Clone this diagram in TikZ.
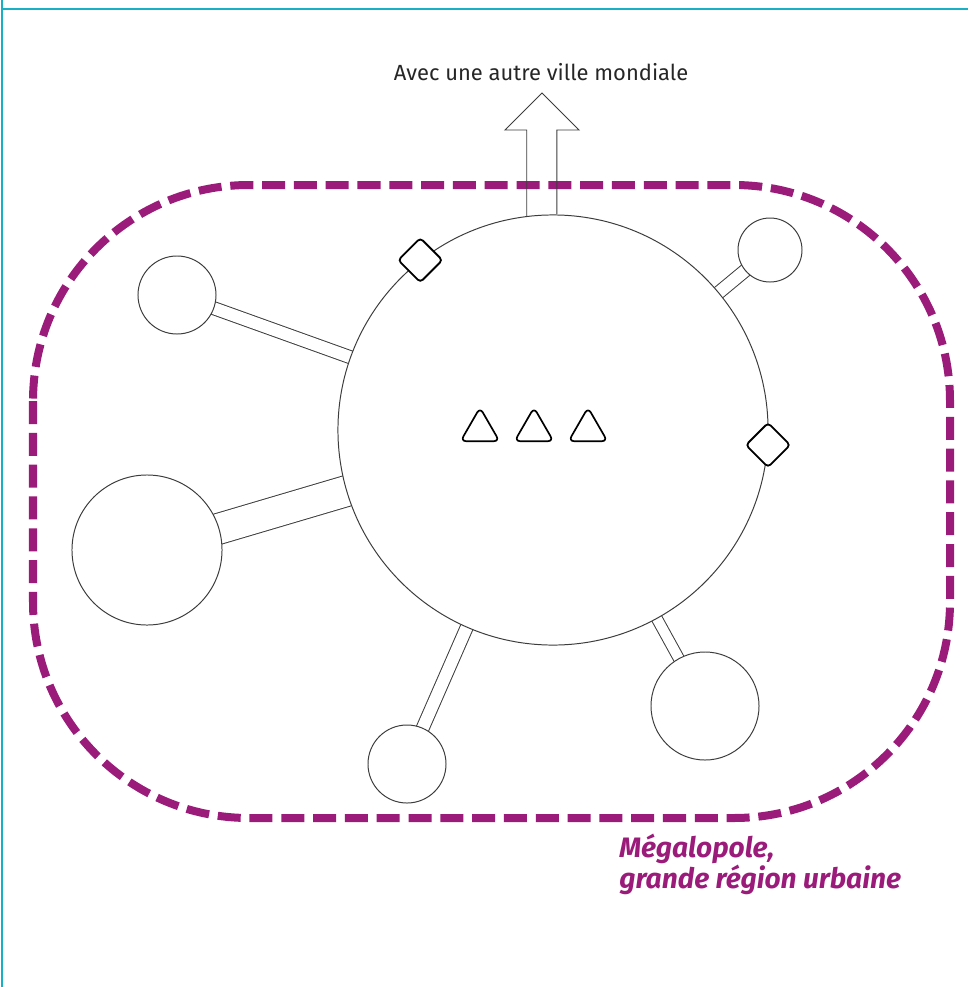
\documentclass[tikz,border=0pt]{standalone}
\usepackage{fontspec}
\usetikzlibrary{positioning,shapes.geometric}
\pgfdeclarelayer{background layer}
\pgfsetlayers{background layer,main}
\newfontfamily\legendfont{Fira Sans}
\definecolor{frame}{RGB}{24,176,196}
\definecolor{mega}{RGB}{155,27,122}
\definecolor{ink}{RGB}{60,60,60}

\begin{document}
\begin{tikzpicture}[x=0.025cm,y=-0.025cm]
\tikzstyle{town}=[draw=ink,circle,fill=white,line width=0.7pt,inner sep=0pt]
\tikzstyle{link}=[draw=ink,line width=0.7pt,double=white]
\tikzstyle{gate}=[draw=black,fill=white,line width=1.3pt,rounded corners=2.5pt,rotate=45,minimum size=0.78cm,inner sep=0pt]
\tikzstyle{seat}=[draw=black,regular polygon,regular polygon sides=3,line width=1.2pt,rounded corners=4pt,minimum size=1.12cm,inner sep=0pt]
\tikzstyle{region}=[draw=mega,line width=0.2cm,dash pattern=on 0.575cm off 0.22cm,rounded corners=5.4cm]
\useasboundingbox (0,0) rectangle (968,987);
% frame
\draw [frame,line width=2pt] (2,0) -- (2,987);
\draw [frame,line width=2pt] (2,9) -- (968,9);
% megalopolis
\draw [region] (33,185) rectangle (950,818);
\node [anchor=north west,align=left,inner sep=0pt,text=mega,font=\legendfont\bfseries\itshape\fontsize{20}{21.5}\selectfont] (name) at (619,834) {Mégalopole,\\grande région urbaine};
% cities
\node [town,minimum size=10.75cm] (hub) at (553,430) {};
\node [town,minimum size=1.95cm] (nw) at (177,295) {};
\node [town,minimum size=3.75cm] (w) at (147,550) {};
\node [town,minimum size=1.95cm] (s) at (407,764) {};
\node [town,minimum size=2.7cm] (se) at (705,706) {};
\node [town,minimum size=1.6cm] (ne) at (770,250) {};
\begin{pgfonlayer}{background layer}
\draw [link,double distance=0.3cm] (nw.center) -- (hub.center);
\draw [link,double distance=0.75cm] (w.center) -- (hub.center);
\draw [link,double distance=0.3cm] (s.center) -- (hub.center);
\draw [link,double distance=0.25cm] (se.center) -- (hub.center);
\draw [link,double distance=0.3cm] (ne.center) -- (hub.center);
\end{pgfonlayer}
% gates and centres
\node [gate] (g1) at (hub.128) {};
\node [gate] (g2) at (hub.-4.5) {};
\node [seat] (c1) at (480,430) {};
\node [seat] (c2) at (534,430) {};
\node [seat] (c3) at (588,430) {};
% link to another world city
\node [font=\legendfont\fontsize{15.6}{18}\selectfont,text=black!85] (dest) at (541,72) {Avec une autre ville mondiale};
\coordinate (tip) at (542,93);
\draw [ink,line width=0.7pt] (hub.97) -- (hub.97 |- 0,130) -- (505,130) -- (tip) -- (579,130) -- (hub.89 |- 0,130) -- (hub.89);
\end{tikzpicture}
\end{document}
